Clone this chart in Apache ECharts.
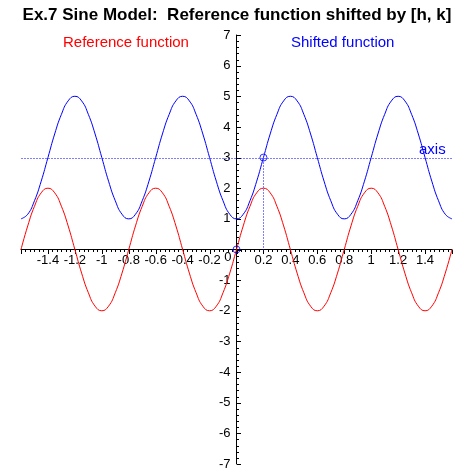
<!DOCTYPE html>
<html>
<head>
<meta charset="utf-8">
<script src="https://cdn.jsdelivr.net/npm/echarts@6/dist/echarts.min.js"></script>
<style>
html, body { margin: 0; padding: 0; background: #fff; }
#main { width: 474px; height: 474px; }
</style>
</head>
<body>
<div id="main"></div>
<script>
var dom = document.getElementById("main");
var myChart = echarts.init(dom);

// x samples, every 0.05 from -1.6 to 1.6
var xValues = [];
for (var i = 0; i <= 64; i++) {
    xValues.push(Math.round((-1.6 + 0.05 * i) * 100) / 100);
}

// reference function (red)
var refValues = [
    0, 0.77, 1.41, 1.85, 2, 1.85, 1.41, 0.77, 0, -0.77, -1.41, -1.85, -2, -1.85, -1.41, -0.77,
    0, 0.77, 1.41, 1.85, 2, 1.85, 1.41, 0.77, 0, -0.77, -1.41, -1.85, -2, -1.85, -1.41, -0.77,
    0, 0.77, 1.41, 1.85, 2, 1.85, 1.41, 0.77, 0, -0.77, -1.41, -1.85, -2, -1.85, -1.41, -0.77,
    0, 0.77, 1.41, 1.85, 2, 1.85, 1.41, 0.77, 0, -0.77, -1.41, -1.85, -2, -1.85, -1.41, -0.77,
    0
];

// shifted function (blue)
var shiftValues = [
    1, 1.15, 1.59, 2.23, 3, 3.77, 4.41, 4.85, 5, 4.85, 4.41, 3.77, 3, 2.23, 1.59, 1.15,
    1, 1.15, 1.59, 2.23, 3, 3.77, 4.41, 4.85, 5, 4.85, 4.41, 3.77, 3, 2.23, 1.59, 1.15,
    1, 1.15, 1.59, 2.23, 3, 3.77, 4.41, 4.85, 5, 4.85, 4.41, 3.77, 3, 2.23, 1.59, 1.15,
    1, 1.15, 1.59, 2.23, 3, 3.77, 4.41, 4.85, 5, 4.85, 4.41, 3.77, 3, 2.23, 1.59, 1.15,
    1
];

var shiftH = 0.2;
var shiftK = 3;
var xRange = [-1.6, 1.6];
var yRange = [-7, 7];

// tick labels
var xTickValues = [-1.4, -1.2, -1, -0.8, -0.6, -0.4, -0.2, 0.2, 0.4, 0.6, 0.8, 1, 1.2, 1.4];
var xTickLabels = ['-1.4', '-1.2', '-1', '-0.8', '-0.6', '-0.4', '-0.2', '0.2', '0.4', '0.6', '0.8', '1', '1.2', '1.4'];
var yTickValues = [-7, -6, -5, -4, -3, -2, -1, 1, 2, 3, 4, 5, 6, 7];
var yTickLabels = ['-7', '-6', '-5', '-4', '-3', '-2', '-1', '1', '2', '3', '4', '5', '6', '7'];

var refData = [];
var shiftData = [];
for (var i = 0; i < xValues.length; i++) {
    refData.push([xValues[i], refValues[i]]);
    shiftData.push([xValues[i], shiftValues[i]]);
}

// tick marks: x every 0.2 with 6 steps between, y every 1 with 5 steps
var xTicks = [];
for (var i = 0; i <= 96; i++) {
    xTicks.push([xRange[0] + i * 0.2 / 6, i % 6 === 0 ? 1 : 0]);
}
var yTicks = [];
for (var i = 0; i <= 70; i++) {
    yTicks.push([yRange[0] + i * 0.2, i % 5 === 0 ? 1 : 0]);
}

// dotted guide lines: [x1, y1, x2, y2]
var guides = [
    [xRange[0], shiftK, xRange[1], shiftK],
    [shiftH, 0, shiftH, shiftK]
];

var font = "'Liberation Sans', Arial, sans-serif";

function renderXTick(params, api) {
    var p = api.coord([api.value(0), 0]);
    var x = Math.round(p[0]) + 0.5;
    var y = Math.round(p[1]);
    return {
        type: 'line',
        shape: { x1: x, y1: y, x2: x, y2: y + (api.value(1) ? 4 : 2) },
        style: { stroke: '#000', lineWidth: 1 }
    };
}

function renderYTick(params, api) {
    var p = api.coord([0, api.value(0)]);
    var x = Math.round(p[0]);
    var y = Math.round(p[1]) + 0.5;
    return {
        type: 'line',
        shape: { x1: x, y1: y, x2: x + (api.value(1) ? 4 : 2), y2: y },
        style: { stroke: '#000', lineWidth: 1 }
    };
}

function renderXLabel(params, api) {
    var p = api.coord([api.value(0), 0]);
    return {
        type: 'text',
        x: p[0],
        y: p[1] + 4,
        style: {
            text: xTickLabels[params.dataIndex],
            align: 'center',
            verticalAlign: 'top',
            fill: '#000',
            font: '13px ' + font
        }
    };
}

function renderYLabel(params, api) {
    var p = api.coord([0, api.value(1)]);
    return {
        type: 'text',
        x: p[0] - 6,
        y: p[1],
        style: {
            text: yTickLabels[params.dataIndex],
            align: 'right',
            verticalAlign: 'middle',
            fill: '#000',
            font: '13px ' + font
        }
    };
}

function renderOrigin(params, api) {
    var p = api.coord([0, 0]);
    return {
        type: 'text',
        x: p[0] - 5,
        y: p[1] + 1,
        style: {
            text: '0',
            align: 'right',
            verticalAlign: 'top',
            fill: '#000',
            font: '13px ' + font
        }
    };
}

function renderGuide(params, api) {
    var a = api.coord([api.value(0), api.value(1)]);
    var b = api.coord([api.value(2), api.value(3)]);
    return {
        type: 'line',
        shape: {
            x1: Math.round(a[0]) + 0.5, y1: Math.round(a[1]) + 0.5,
            x2: Math.round(b[0]) + 0.5, y2: Math.round(b[1]) + 0.5
        },
        style: { stroke: '#0000ff', lineWidth: 1, lineDash: [1, 2] }
    };
}

var option = {
    backgroundColor: '#fff',
    animation: false,
    title: {
        text: 'Ex.7 Sine Model:  Reference function shifted by [h, k]',
        left: 'center',
        top: 2,
        textStyle: {
            color: '#000',
            fontSize: 17,
            fontWeight: 'bold',
            fontFamily: font
        }
    },
    graphic: [
        {
            type: 'text', left: 63, top: 35,
            style: { text: 'Reference function', fill: '#ff0000', font: '15px ' + font }
        },
        {
            type: 'text', left: 291, top: 35,
            style: { text: 'Shifted function', fill: '#0000ff', font: '15px ' + font }
        },
        {
            type: 'text', left: 419, top: 142,
            style: { text: 'axis', fill: '#0000ff', font: '15px ' + font }
        }
    ],
    grid: {
        left: 21,
        right: 22,
        top: 35,
        bottom: 10
    },
    xAxis: {
        type: 'value',
        min: xRange[0],
        max: xRange[1],
        interval: 0.2,
        splitLine: { show: false },
        axisLine: { onZero: true, lineStyle: { color: '#000', width: 1 } },
        axisTick: { show: false },
        axisLabel: { show: false }
    },
    yAxis: {
        type: 'value',
        min: yRange[0],
        max: yRange[1],
        interval: 1,
        splitLine: { show: false },
        axisLine: { onZero: true, lineStyle: { color: '#000', width: 1 } },
        axisTick: { show: false },
        axisLabel: { show: false }
    },
    series: [
        {
            type: 'custom',
            renderItem: renderXTick,
            data: xTicks,
            silent: true,
            z: 1
        },
        {
            type: 'custom',
            renderItem: renderYTick,
            data: yTicks,
            silent: true,
            z: 1
        },
        {
            type: 'custom',
            renderItem: renderXLabel,
            data: xTickValues.map(function (v) { return [v, 0]; }),
            silent: true,
            z: 1
        },
        {
            type: 'custom',
            renderItem: renderYLabel,
            data: yTickValues.map(function (v) { return [0, v]; }),
            silent: true,
            z: 1
        },
        {
            type: 'custom',
            renderItem: renderOrigin,
            data: [[0, 0]],
            silent: true,
            z: 1
        },
        {
            type: 'custom',
            renderItem: renderGuide,
            data: guides,
            silent: true,
            z: 2
        },
        {
            type: 'line',
            data: refData,
            smooth: true,
            showSymbol: false,
            lineStyle: { color: '#ff0000', width: 1 },
            z: 3
        },
        {
            type: 'line',
            data: shiftData,
            smooth: true,
            showSymbol: false,
            lineStyle: { color: '#0000ff', width: 1 },
            z: 3
        },
        {
            type: 'scatter',
            data: [[0, 0], [shiftH, shiftK]],
            symbol: 'circle',
            symbolSize: 7,
            itemStyle: { color: 'rgba(0,0,0,0)', borderColor: '#0000ff', borderWidth: 1 },
            z: 5
        }
    ]
};
myChart.setOption(option);
</script>
</body>
</html>
